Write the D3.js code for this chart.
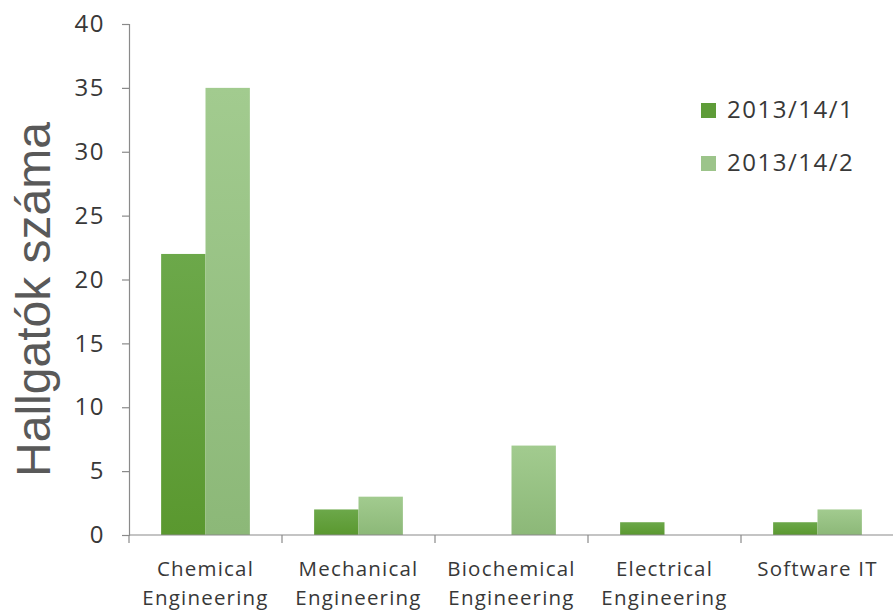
<!DOCTYPE html>
<html>
<head>
<meta charset="utf-8">
<script src="https://cdn.jsdelivr.net/npm/d3@7"></script>
<style>
  html, body { margin: 0; padding: 0; background: #fff; }
  svg { display: block; }
</style>
</head>
<body>
<div id="chart"></div>
<script>
// ---- data ----
const categories = [
  ["Chemical", "Engineering"],
  ["Mechanical", "Engineering"],
  ["Biochemical", "Engineering"],
  ["Electrical", "Engineering"],
  ["Software IT"]
];
const seriesNames = ["2013/14/1", "2013/14/2"];
const semester1 = [22, 2, 0, 1, 1];
const semester2 = [35, 3, 7, 0, 2];
const yTicks = [0, 5, 10, 15, 20, 25, 30, 35, 40];
const yTitle = "Hallgatók száma";

// ---- layout ----
const W = 893, H = 615;
const plotLeft = 129, plotRight = 894, plotTop = 24, plotBottom = 535;

const svg = d3.select("#chart").append("svg")
  .attr("width", W).attr("height", H);

const defs = svg.append("defs");
const grads = [
  { id: "g1", c0: "#6ca84a", c1: "#5a982f" },
  { id: "g2", c0: "#a2cb8f", c1: "#8cb878" }
];
grads.forEach(g => {
  const lg = defs.append("linearGradient").attr("id", g.id)
    .attr("x1", 0).attr("y1", 0).attr("x2", 0).attr("y2", 1);
  lg.append("stop").attr("offset", "0%").attr("stop-color", g.c0);
  lg.append("stop").attr("offset", "100%").attr("stop-color", g.c1);
});
const legendColors = ["#5e9c38", "#9cc48a"];

const catKeys = categories.map(c => c.join(" "));
const x0 = d3.scaleBand().domain(catKeys).range([plotLeft, plotRight])
  .paddingInner(0.42).paddingOuter(0.21);
const x1 = d3.scaleBand().domain(seriesNames).range([0, x0.bandwidth()]).padding(0);
const y = d3.scaleLinear().domain([0, 40]).range([plotBottom, plotTop]);

const data = catKeys.map((k, i) => ({ key: k, values: [semester1[i], semester2[i]] }));

// bars
const groups = svg.append("g").selectAll("g").data(data).join("g")
  .attr("transform", d => `translate(${x0(d.key)},0)`);
groups.selectAll("rect")
  .data(d => d.values.map((v, j) => ({ name: seriesNames[j], v, j })).filter(d => d.v > 0))
  .join("rect")
  .attr("x", d => x1(d.name))
  .attr("width", x1.bandwidth())
  .attr("y", d => y(d.v))
  .attr("height", d => y(0) - y(d.v))
  .attr("fill", d => `url(#${grads[d.j].id})`);

// y axis
const yAxis = d3.axisLeft(y).tickValues(yTicks).tickSize(7).tickPadding(17);
const gy = svg.append("g").attr("transform", `translate(${plotLeft},0)`).call(yAxis);
gy.select(".domain").attr("stroke", "#8a8a8a").attr("stroke-width", 1.2);
gy.selectAll(".tick line").attr("stroke", "#8a8a8a").attr("stroke-width", 1.2);
gy.selectAll(".tick text")
  .attr("font-family", "'Open Sans', sans-serif")
  .attr("font-size", 24)
  .attr("letter-spacing", "1.5px")
  .attr("fill", "#383838");

// x axis line
svg.append("line")
  .attr("x1", plotLeft).attr("x2", plotRight)
  .attr("y1", y(0)).attr("y2", y(0))
  .attr("stroke", "#8a8a8a").attr("stroke-width", 1.2);

// boundary ticks
const step = x0.step();
const start = x0(catKeys[0]) - step * x0.paddingOuter();
const boundaries = d3.range(catKeys.length + 1).map(i => start + i * step);
svg.append("g").selectAll("line").data(boundaries).join("line")
  .attr("x1", d => d).attr("x2", d => d)
  .attr("y1", y(0)).attr("y2", y(0) + 8)
  .attr("stroke", "#8a8a8a").attr("stroke-width", 1.2);

// category labels
const labels = svg.append("g").selectAll("text").data(categories.map((c, i) => ({ lines: c, key: catKeys[i] })))
  .join("text")
  .attr("text-anchor", "middle")
  .attr("font-family", "'Open Sans', sans-serif")
  .attr("font-size", 20.5)
  .attr("letter-spacing", "1.2px")
  .attr("fill", "#383838")
  .attr("transform", d => `translate(${x0(d.key) + x0.bandwidth() / 2},576)`);
labels.selectAll("tspan").data(d => d.lines).join("tspan")
  .attr("x", 0).attr("y", (d, i) => i * 28.5)
  .text(d => d);

// y title
svg.append("text")
  .attr("transform", `translate(50,${(125 + 474) / 2}) rotate(-90)`)
  .attr("text-anchor", "middle")
  .attr("font-family", "'Liberation Sans', Arial, sans-serif")
  .attr("font-size", 48)
  .attr("fill", "#595959")
  .text(yTitle);

// legend
const legend = svg.append("g").selectAll("g").data(seriesNames).join("g")
  .attr("transform", (d, i) => `translate(701,${103 + i * 53})`);
legend.append("rect").attr("width", 15).attr("height", 15)
  .attr("fill", (d, i) => legendColors[i]);
legend.append("text").attr("x", 26).attr("y", 15)
  .attr("font-family", "'Open Sans', sans-serif")
  .attr("font-size", 24)
  .attr("letter-spacing", "1.5px")
  .attr("fill", "#383838")
  .text(d => d);
</script>
</body>
</html>
